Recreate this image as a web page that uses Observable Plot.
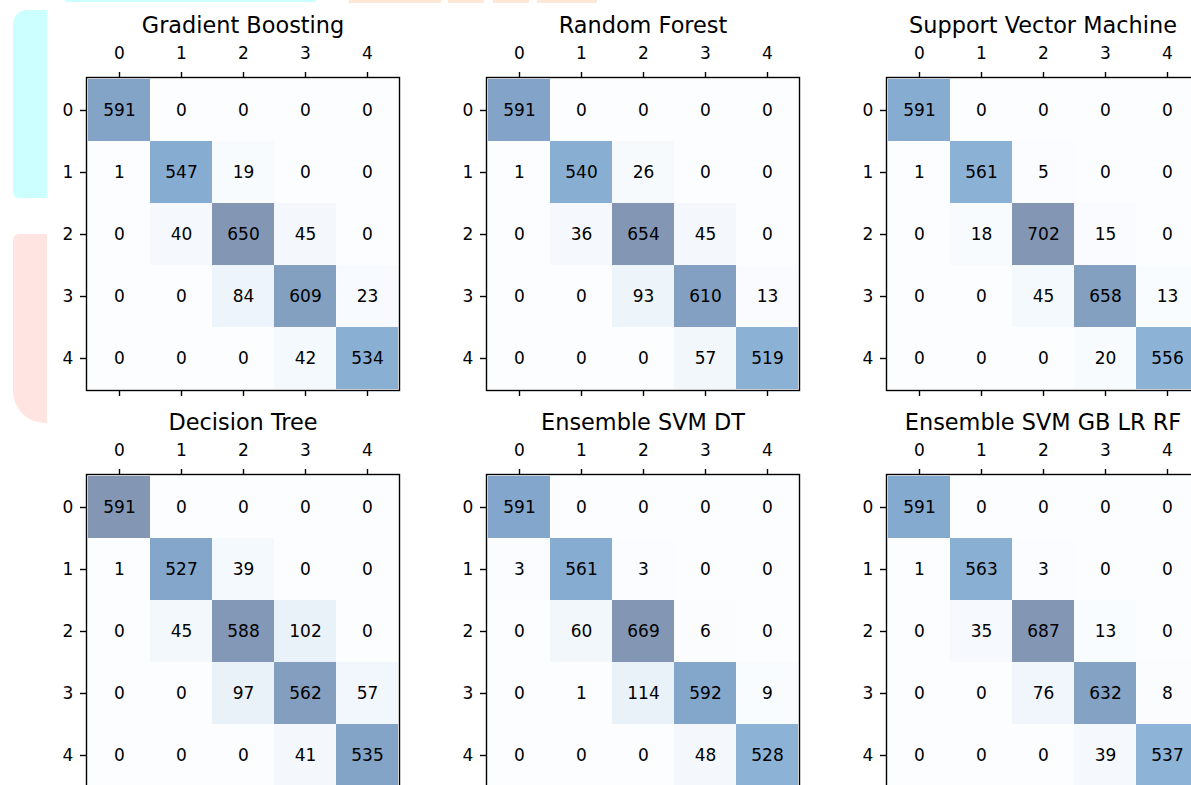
<!DOCTYPE html>
<html>
<head>
<meta charset="utf-8">
<script src="https://cdn.jsdelivr.net/npm/d3@7"></script>
<script src="https://cdn.jsdelivr.net/npm/@observablehq/plot@0.6"></script>
<style>
  html, body { margin: 0; padding: 0; background: #fff; }
  #fig { position: relative; width: 1191px; height: 785px; overflow: hidden; background: #fff;
         font-family: "DejaVu Sans", sans-serif; }
  .panel { position: absolute; width: 400px; height: 397px; }
  .panel svg { overflow: visible; background: transparent; max-width: none !important; width: 400px; height: 397px; }
  .deco { position: absolute; }
</style>
</head>
<body>
<div id="fig">
  <div class="deco" style="left:13px;top:10px;width:34px;height:188px;background:#ccffff;border-radius:14px 0 0 6px;"></div>
  <div class="deco" style="left:13px;top:234px;width:34px;height:189px;background:#ffe4e2;border-radius:6px 0 0 32px;"></div>
  <div class="deco" style="left:66px;top:0;width:250px;height:2px;background:#ccffff;"></div>
  <div class="deco" style="left:349px;top:0;width:92px;height:3px;background:#ffe9d6;"></div>
  <div class="deco" style="left:448px;top:0;width:36px;height:3px;background:#ffe9d6;"></div>
  <div class="deco" style="left:493px;top:0;width:36px;height:3px;background:#ffe9d6;"></div>
  <div class="deco" style="left:537px;top:0;width:60px;height:3px;background:#ffe9d6;"></div>
</div>
<script>
// Class labels (rows = true class, columns = predicted class)
const classes = [0, 1, 2, 3, 4];

// Model names, in grid order
const modelNames = [
  "Gradient Boosting", "Random Forest", "Support Vector Machine",
  "Decision Tree", "Ensemble SVM DT", "Ensemble SVM GB LR RF"
];

// Confusion matrices
const gradientBoosting = [
  [591, 0, 0, 0, 0],
  [1, 547, 19, 0, 0],
  [0, 40, 650, 45, 0],
  [0, 0, 84, 609, 23],
  [0, 0, 0, 42, 534]
];
const randomForest = [
  [591, 0, 0, 0, 0],
  [1, 540, 26, 0, 0],
  [0, 36, 654, 45, 0],
  [0, 0, 93, 610, 13],
  [0, 0, 0, 57, 519]
];
const supportVectorMachine = [
  [591, 0, 0, 0, 0],
  [1, 561, 5, 0, 0],
  [0, 18, 702, 15, 0],
  [0, 0, 45, 658, 13],
  [0, 0, 0, 20, 556]
];
const decisionTree = [
  [591, 0, 0, 0, 0],
  [1, 527, 39, 0, 0],
  [0, 45, 588, 102, 0],
  [0, 0, 97, 562, 57],
  [0, 0, 0, 41, 535]
];
const ensembleSvmDt = [
  [591, 0, 0, 0, 0],
  [3, 561, 3, 0, 0],
  [0, 60, 669, 6, 0],
  [0, 1, 114, 592, 9],
  [0, 0, 0, 48, 528]
];
const ensembleSvmGbLrRf = [
  [591, 0, 0, 0, 0],
  [1, 563, 3, 0, 0],
  [0, 35, 687, 13, 0],
  [0, 0, 76, 632, 8],
  [0, 0, 0, 39, 537]
];

const matrices = [gradientBoosting, randomForest, supportVectorMachine,
                  decisionTree, ensembleSvmDt, ensembleSvmGbLrRf];

// Sequential blue ramp, linearly interpolated between the nine stops
const blueStops = ["#f7fbff", "#deebf7", "#c6dbef", "#9ecae1", "#6baed6",
                   "#4292c6", "#2171b5", "#08519c", "#08306b"];
const blues = d3.piecewise(d3.interpolateRgb, blueStops);

const panelW = 400, panelH = 397;
const fig = document.getElementById("fig");

matrices.forEach((m, i) => {
  const cells = m.flatMap((row, r) => row.map((v, c) => ({row: classes[r], col: classes[c], value: v})));
  const vmax = d3.max(cells, d => d.value);
  const vmin = d3.min(cells, d => d.value);

  const chart = Plot.plot({
    width: panelW,
    height: panelH,
    marginLeft: 86,
    marginRight: 1,
    marginTop: 77,
    marginBottom: 7,
    style: {fontFamily: "DejaVu Sans, sans-serif", fontSize: "17px", color: "#000", background: "transparent"},
    x: {domain: classes, type: "band", padding: 0},
    y: {domain: classes, type: "band", padding: 0},
    color: {type: "linear", domain: [vmin, vmax], interpolate: blues},
    marks: [
      Plot.cell(cells, {x: "col", y: "row", fill: "value", fillOpacity: 0.5, inset: 0}),
      Plot.text(cells, {x: "col", y: "row", text: d => String(d.value), fill: "#000", fontSize: 17}),
      // tick marks on top, bottom and left; labels drawn below as text marks
      Plot.axisX({anchor: "top", tickSize: 6, strokeWidth: 1.4, stroke: "#000", tickFormat: () => "", label: null}),
      Plot.axisX({anchor: "bottom", tickSize: 6, strokeWidth: 1.4, stroke: "#000", tickFormat: () => "", label: null}),
      Plot.axisY({anchor: "left", tickSize: 6, strokeWidth: 1.4, stroke: "#000", tickFormat: () => "", label: null}),
      Plot.text(classes, {x: d => d, frameAnchor: "top", dy: -24, text: d => String(d),
                          fontSize: 17, fill: "#000", lineAnchor: "middle"}),
      Plot.text(classes, {y: d => d, frameAnchor: "left", dx: -18.5, text: d => String(d),
                          fontSize: 17, fill: "#000", textAnchor: "middle"}),
      Plot.frame({stroke: "#000", strokeWidth: 1.4}),
      Plot.text([modelNames[i]], {frameAnchor: "top", dy: -52, text: d => d, fontSize: 22.4,
                                  lineAnchor: "middle", fill: "#000"})
    ]
  });

  const holder = document.createElement("div");
  holder.className = "panel";
  holder.style.left = (i % 3) * panelW + "px";
  holder.style.top = Math.floor(i / 3) * panelH + "px";
  holder.appendChild(chart);
  fig.appendChild(holder);
});
</script>
</body>
</html>
